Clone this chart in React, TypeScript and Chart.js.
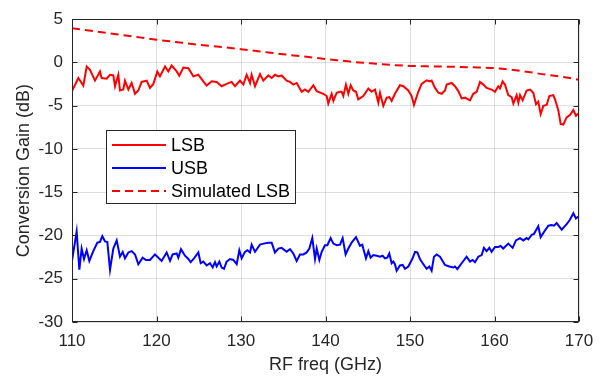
import React, { useEffect, useRef } from "react";
import { Chart, registerables } from "chart.js";

Chart.register(...registerables);

const W = 603;
const H = 377;

// ---------- data ----------
const lsbFreq = [
  110.0, 110.75, 111.34, 111.74, 112.13, 112.72, 113.31, 113.51, 114.1, 114.5, 114.89, 115.09, 115.48, 115.68,
  116.07, 116.27, 116.67, 117.06, 117.46, 117.85, 118.24, 118.84, 119.23, 119.63, 120.1, 120.41, 121.01, 121.4,
  121.79, 122.39, 122.7, 123.18, 123.77, 124.36, 124.95, 125.54, 125.94, 126.53, 127.12, 127.71, 128.3, 128.9,
  129.29, 129.88, 130.28, 130.67, 131.07, 131.26, 131.66, 132.25, 132.64, 133.23, 133.63, 134.02, 134.42, 134.81,
  135.4, 135.8, 136.19, 136.59, 137.18, 137.57, 137.97, 138.56, 138.96, 139.74, 140.14, 140.33, 140.73, 140.93,
  141.32, 141.72, 141.91, 142.11, 142.42, 142.7, 142.98, 143.29, 143.61, 143.88, 144.47, 145.07, 145.46, 145.86,
  146.25, 146.45, 146.84, 147.24, 147.55, 147.83, 148.22, 148.81, 149.21, 149.8, 150.19, 150.47, 150.98, 151.38,
  151.97, 152.36, 152.56, 152.96, 153.35, 153.75, 154.14, 154.34, 154.93, 155.32, 155.72, 156.11, 156.51, 157.1,
  157.49, 157.89, 158.28, 158.68, 159.07, 159.66, 160.06, 160.45, 160.65, 160.96, 161.24, 161.63, 162.03, 162.23,
  162.62, 162.82, 163.02, 163.33, 163.8, 164.2, 164.59, 164.91, 165.18, 165.46, 165.78, 166.17, 166.49, 166.96,
  167.16, 167.55, 167.83, 168.14, 168.54, 168.93, 169.33, 169.64, 169.92,
];
const lsbGain = [
  -3.31, -1.8, -2.67, -0.47, -0.85, -2.1, -1.04, -1.8, -1.88, -1.42, -1.5, -2.75, -1.42, -3.24,
  -3.13, -2.1, -3.13, -2.37, -3.62, -3.24, -2.25, -2.1, -2.94, -2.48, -1.04, -1.61, -0.47, -1.04,
  -0.36, -1.04, -1.53, -0.59, -0.66, -1.61, -1.42, -2.18, -2.67, -2.18, -2.25, -2.75, -2.48, -2.25,
  -2.75, -2.1, -2.56, -1.42, -2.37, -1.42, -2.75, -1.34, -2.1, -1.5, -1.8, -1.42, -1.61, -1.5,
  -2.1, -2.25, -2.56, -2.37, -3.39, -3.13, -3.39, -2.63, -3.31, -3.62, -3.88, -4.75, -3.62, -4.45,
  -3.5, -3.39, -3.39, -3.88, -2.56, -3.62, -2.63, -3.24, -3.39, -4.26, -3.88, -3.01, -3.39, -3.13,
  -4.64, -3.5, -5.02, -4.07, -4.0, -4.45, -3.62, -2.63, -2.75, -3.24, -3.88, -4.91, -3.39, -2.48,
  -2.06, -2.18, -2.1, -2.94, -3.5, -3.62, -3.24, -2.56, -2.37, -2.75, -3.31, -4.15, -4.07, -4.38,
  -3.62, -3.39, -2.25, -2.56, -2.94, -3.13, -3.39, -2.75, -3.01, -2.18, -2.56, -3.77, -4.0, -4.75,
  -3.77, -4.64, -3.77, -4.38, -3.24, -3.13, -3.5, -4.83, -4.53, -5.97, -5.02, -4.91, -3.88, -3.77,
  -4.26, -5.51, -7.1, -7.18, -6.35, -6.08, -5.51, -6.16, -5.89,
];

const usbFreq = [
  110.0, 110.55, 110.87, 111.14, 111.42, 111.74, 112.05, 112.52, 113.0, 113.31, 113.59, 113.91, 114.18, 114.5,
  114.89, 115.29, 115.68, 116.0, 116.27, 116.67, 117.06, 117.46, 117.85, 118.36, 118.76, 119.23, 119.82, 120.1,
  120.61, 121.2, 121.6, 121.91, 122.39, 122.58, 122.9, 123.37, 123.77, 124.04, 124.44, 124.95, 125.23, 125.54,
  125.94, 126.33, 126.65, 126.92, 127.12, 127.44, 127.71, 127.99, 128.3, 128.7, 129.09, 129.49, 129.8, 130.08,
  130.47, 130.75, 131.07, 131.26, 131.66, 131.93, 132.25, 132.64, 133.23, 133.63, 134.02, 134.42, 134.81, 135.4,
  135.8, 136.19, 136.59, 136.98, 137.38, 137.77, 138.09, 138.44, 138.76, 138.96, 139.27, 139.55, 139.94, 140.22,
  140.61, 140.93, 141.32, 141.72, 142.03, 142.38, 142.7, 143.09, 143.61, 144.08, 144.36, 144.47, 144.79, 145.07,
  145.34, 145.66, 146.05, 146.45, 146.76, 147.04, 147.31, 147.55, 147.83, 148.03, 148.22, 148.42, 148.81, 149.13,
  149.41, 149.8, 150.31, 150.59, 150.87, 151.18, 151.5, 151.97, 152.29, 152.56, 152.84, 153.15, 153.55, 154.14,
  154.65, 155.13, 155.32, 155.6, 156.11, 156.7, 157.1, 157.41, 157.69, 158.08, 158.48, 158.75, 159.07, 159.39,
  159.66, 160.06, 160.45, 160.73, 161.04, 161.63, 162.15, 162.54, 163.02, 163.41, 163.8, 164.0, 164.4, 164.67,
  165.18, 165.46, 165.97, 166.37, 166.76, 167.04, 167.35, 167.95, 168.54, 168.93, 169.33, 169.64, 169.92,
];
const usbGain = [
  -22.94, -19.55, -23.96, -21.51, -22.72, -21.7, -22.94, -21.81, -20.83, -20.75, -20.08, -20.68, -20.75, -23.96,
  -21.51, -20.57, -22.45, -21.89, -22.64, -21.96, -21.81, -22.19, -23.32, -22.57, -22.83, -22.83, -22.19, -22.45,
  -22.94, -21.96, -22.94, -22.19, -22.08, -22.57, -21.58, -22.34, -22.72, -23.09, -22.64, -21.96, -23.21, -23.02,
  -23.47, -23.21, -23.7, -23.09, -23.58, -23.02, -23.7, -23.85, -23.02, -22.72, -22.83, -23.32, -21.7, -22.64,
  -21.89, -21.7, -21.96, -21.06, -21.89, -21.51, -21.06, -20.94, -20.83, -20.83, -21.96, -21.51, -21.43, -21.89,
  -21.58, -22.08, -22.94, -22.19, -22.19, -21.96, -21.51, -20.3, -22.72, -21.51, -22.83, -21.89, -21.13, -21.13,
  -20.3, -20.94, -21.13, -21.06, -20.3, -22.19, -21.51, -20.83, -20.19, -21.21, -21.06, -21.51, -22.64, -21.81,
  -22.57, -22.26, -22.34, -22.45, -22.34, -22.64, -22.57, -22.08, -23.21, -23.02, -23.32, -24.08, -23.47, -23.4,
  -23.85, -23.58, -22.64, -21.89, -21.96, -22.72, -23.21, -23.85, -23.58, -24.08, -22.45, -22.19, -22.45, -23.4,
  -23.58, -23.7, -23.58, -23.89, -23.21, -22.45, -23.02, -22.83, -23.09, -22.45, -22.26, -21.43, -21.81, -21.43,
  -21.89, -21.32, -21.32, -21.21, -21.51, -20.94, -21.43, -20.57, -20.3, -20.57, -20.3, -20.45, -19.92, -19.81,
  -18.94, -20.19, -19.43, -18.87, -18.79, -18.87, -18.57, -19.32, -18.68, -18.19, -17.43, -18.04, -17.81,
];

const simFreq = [110, 112, 115, 118, 120, 122, 125, 128, 130, 132, 135, 138, 140, 142, 144, 146, 148, 150, 152, 155, 158, 160, 162, 164, 166, 168, 170];
const simGain = [3.95, 3.7, 3.3, 2.9, 2.63, 2.4, 2.05, 1.75, 1.53, 1.3, 0.95, 0.62, 0.4, 0.2, 0.0, -0.15, -0.3, -0.4, -0.45, -0.5, -0.58, -0.66, -0.85, -1.1, -1.4, -1.65, -2.0];

const seriesLabels = ["LSB", "USB", "Simulated LSB"];
const xMin = 110, xMax = 170, xStep = 10;
const yMin = -30, yMax = 5, yStep = 5;

const FONT = "'Liberation Sans', Arial, Helvetica, sans-serif";
const AXIS_COLOR = "#262626";

const zip = (xs: number[], ys: number[]) => xs.map((x, i) => ({ x, y: ys[i] }));

const framePlugin = {
  id: "matlabFrame",
  afterDatasetsDraw(chart: any) {
    const { ctx, chartArea: a, scales } = chart;
    const L = Math.round(a.left) + 0.5;
    const R = Math.round(a.right) - 0.5;
    const T = Math.round(a.top) + 0.5;
    const B = Math.round(a.bottom) - 0.5;
    ctx.save();
    ctx.strokeStyle = AXIS_COLOR;
    ctx.lineWidth = 1;
    ctx.setLineDash([]);
    ctx.beginPath();
    const tl = 5;
    scales.x.ticks.forEach((t: any) => {
      const px = Math.round(scales.x.getPixelForValue(t.value)) + 0.5;
      ctx.moveTo(px, B);
      ctx.lineTo(px, B - tl);
      ctx.moveTo(px, T);
      ctx.lineTo(px, T + tl);
    });
    scales.y.ticks.forEach((t: any) => {
      const py = Math.round(scales.y.getPixelForValue(t.value)) + 0.5;
      ctx.moveTo(L, py);
      ctx.lineTo(L + tl, py);
      ctx.moveTo(R, py);
      ctx.lineTo(R - tl, py);
    });
    ctx.stroke();
    ctx.strokeRect(L, T, R - L, B - T);

    // legend box
    const lx = 106.5, ly = 130.5, lw = 189, lh = 73;
    ctx.fillStyle = "#ffffff";
    ctx.fillRect(lx, ly, lw, lh);
    ctx.strokeStyle = AXIS_COLOR;
    ctx.strokeRect(lx, ly, lw, lh);
    const rows = [145, 168, 191];
    ctx.font = `18px ${FONT}`;
    ctx.textBaseline = "middle";
    ctx.textAlign = "left";
    chart.data.datasets.forEach((ds: any, i: number) => {
      const y = rows[i];
      ctx.strokeStyle = ds.borderColor;
      ctx.lineWidth = ds.borderWidth;
      ctx.setLineDash(ds.borderDash || []);
      ctx.beginPath();
      ctx.moveTo(112, y);
      ctx.lineTo(166, y);
      ctx.stroke();
      ctx.setLineDash([]);
      ctx.fillStyle = "#000000";
      ctx.fillText(ds.label, 171, y + 1);
    });
    ctx.restore();
  },
};

export default function App() {
  const ref = useRef<HTMLCanvasElement | null>(null);

  useEffect(() => {
    const canvas = ref.current;
    if (!canvas) return;
    document.body.style.margin = "0";
    const chart = new Chart(canvas, {
      type: "line",
      data: {
        datasets: [
          {
            label: seriesLabels[0],
            data: zip(lsbFreq, lsbGain),
            borderColor: "#ff0000",
            borderWidth: 2,
            pointRadius: 0,
            tension: 0,
            fill: false,
          },
          {
            label: seriesLabels[1],
            data: zip(usbFreq, usbGain),
            borderColor: "#0000ff",
            borderWidth: 2,
            pointRadius: 0,
            tension: 0,
            fill: false,
          },
          {
            label: seriesLabels[2],
            data: zip(simFreq, simGain),
            borderColor: "#ff0000",
            borderWidth: 2,
            borderDash: [8, 5],
            pointRadius: 0,
            tension: 0.3,
            cubicInterpolationMode: "monotone",
            fill: false,
          },
        ],
      },
      options: {
        responsive: false,
        animation: false,
        events: [],
        layout: { padding: { left: 0, right: 24, top: 13, bottom: 0 } },
        plugins: {
          legend: { display: false },
          tooltip: { enabled: false },
          title: { display: false },
        },
        scales: {
          x: {
            type: "linear",
            min: xMin,
            max: xMax,
            afterFit: (s: any) => {
              s.height = 55;
            },
            ticks: {
              stepSize: xStep,
              color: AXIS_COLOR,
              font: { family: FONT, size: 17 },
              padding: 9,
              maxRotation: 0,
              autoSkip: false,
            },
            grid: { color: "rgba(38,38,38,0.15)", lineWidth: 1, drawTicks: false },
            border: { display: false },
            title: {
              display: true,
              text: "RF freq (GHz)",
              color: AXIS_COLOR,
              font: { family: FONT, size: 18 },
              padding: { top: 0, bottom: 1 },
            },
          },
          y: {
            type: "linear",
            min: yMin,
            max: yMax,
            afterFit: (s: any) => {
              s.width = 72;
            },
            ticks: {
              stepSize: yStep,
              color: AXIS_COLOR,
              font: { family: FONT, size: 17 },
              padding: 9,
              autoSkip: false,
            },
            grid: { color: "rgba(38,38,38,0.15)", lineWidth: 1, drawTicks: false },
            border: { display: false },
            title: {
              display: true,
              text: "Conversion Gain (dB)",
              color: AXIS_COLOR,
              font: { family: FONT, size: 18 },
              padding: { top: 13, bottom: 0 },
            },
          },
        },
      },
      plugins: [framePlugin],
    } as any);
    return () => chart.destroy();
  }, []);

  return (
    <div style={{ position: "fixed", left: 0, top: 0, width: W, height: H, background: "#ffffff" }}>
      <canvas ref={ref} width={W} height={H} style={{ display: "block", width: W, height: H }} />
    </div>
  );
}
